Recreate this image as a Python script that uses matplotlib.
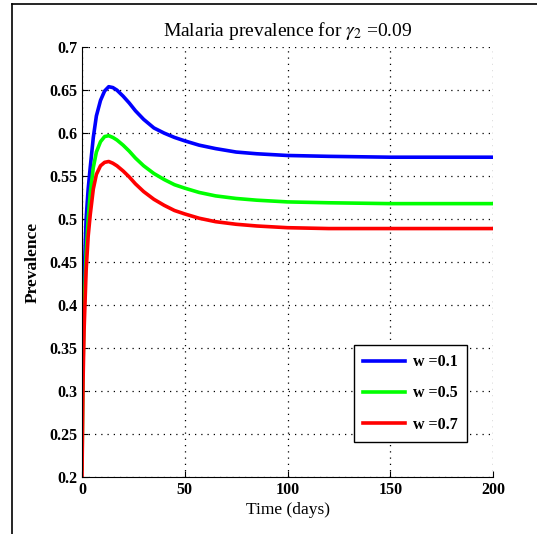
import numpy as np
import matplotlib
matplotlib.use('Agg')
import matplotlib.pyplot as plt
from matplotlib.lines import Line2D

# ═══ Data ═════════════════════════════════════════════════════════════════

t = [0, 0.5, 1, 2, 3, 4, 5.5, 7, 9, 11, 13, 15, 17, 20, 23, 26, 30, 35, 40,
     45, 50, 57, 65, 75, 85, 100, 120, 150, 175, 200]

w_labels = ['w =0.1', 'w =0.5', 'w =0.7']

p_w01 = [0.32, 0.38, 0.43, 0.50, 0.535, 0.56, 0.595, 0.62, 0.638, 0.649,
         0.654, 0.653, 0.650, 0.643, 0.635, 0.626, 0.616, 0.606, 0.600,
         0.595, 0.591, 0.586, 0.582, 0.578, 0.576, 0.574, 0.573, 0.572,
         0.572, 0.572]
p_w05 = [0.21, 0.33, 0.39, 0.46, 0.50, 0.53, 0.56, 0.578, 0.59, 0.596,
         0.597, 0.595, 0.592, 0.586, 0.579, 0.571, 0.562, 0.553, 0.546,
         0.540, 0.536, 0.531, 0.527, 0.524, 0.522, 0.520, 0.519, 0.518,
         0.518, 0.518]
p_w07 = [0.20, 0.31, 0.37, 0.44, 0.48, 0.505, 0.535, 0.552, 0.562, 0.566,
         0.567, 0.565, 0.562, 0.556, 0.549, 0.541, 0.532, 0.523, 0.516,
         0.510, 0.506, 0.501, 0.497, 0.494, 0.492, 0.490, 0.489, 0.489,
         0.489, 0.489]

colors = ['#0000ff', '#00ff00', '#ff0000']

# ═══ Figure ═══════════════════════════════════════════════════════════════

plt.rcParams['font.family'] = ['Liberation Serif', 'DejaVu Serif']
plt.rcParams['mathtext.fontset'] = 'stix'

fig = plt.figure(figsize=(5.37, 5.34), dpi=100)
ax = fig.add_axes([0.1527, 0.1067, 0.7654, 0.805])

for y, c, lab in zip([p_w01, p_w05, p_w07], colors, w_labels):
  ax.plot(t, y, color=c, lw=2.6, label=lab)

# ─── Plot options ─────────────────────────────────────────────────────────

ax.set_xlim(0, 200)
ax.set_ylim(0.2, 0.7)
ax.set_xticks([0, 50, 100, 150, 200])
ax.set_yticks(np.round(np.arange(0.2, 0.701, 0.05), 2))
ax.set_yticklabels(['0.2', '0.25', '0.3', '0.35', '0.4', '0.45', '0.5',
                    '0.55', '0.6', '0.65', '0.7'])
ax.grid(True, color='k', linestyle=(0, (1, 4)), lw=0.9)
ax.spines['top'].set_visible(False)
ax.spines['right'].set_visible(False)
ax.tick_params(direction='in', length=4, labelsize=11.5)
for lbl in ax.get_xticklabels() + ax.get_yticklabels():
  lbl.set_fontweight('bold')

ax.set_title(r'Malaria prevalence for $\gamma_2$ =0.09', fontsize=14, pad=8)
ax.set_xlabel('Time (days)', fontsize=12.5, labelpad=3)
ax.set_ylabel('Prevalence', fontsize=12.5, fontweight='bold', labelpad=6)

leg = ax.legend(loc='lower right', bbox_to_anchor=(0.937, 0.081), borderaxespad=0,
                fancybox=False, edgecolor='k', framealpha=1,
                prop={'weight': 'bold', 'size': 11.5},
                handlelength=2.6, handletextpad=0.5, labelspacing=0.95,
                borderpad=0.6)
leg.get_frame().set_linewidth(1.0)

# outer frame (top and left only)
fig.add_artist(Line2D([12/537, 1], [1-4/534, 1-4/534], color='k', lw=1.2))
fig.add_artist(Line2D([12/537, 12/537], [0, 1-4/534], color='k', lw=1.2))

fig.savefig('out.png', dpi=100)
